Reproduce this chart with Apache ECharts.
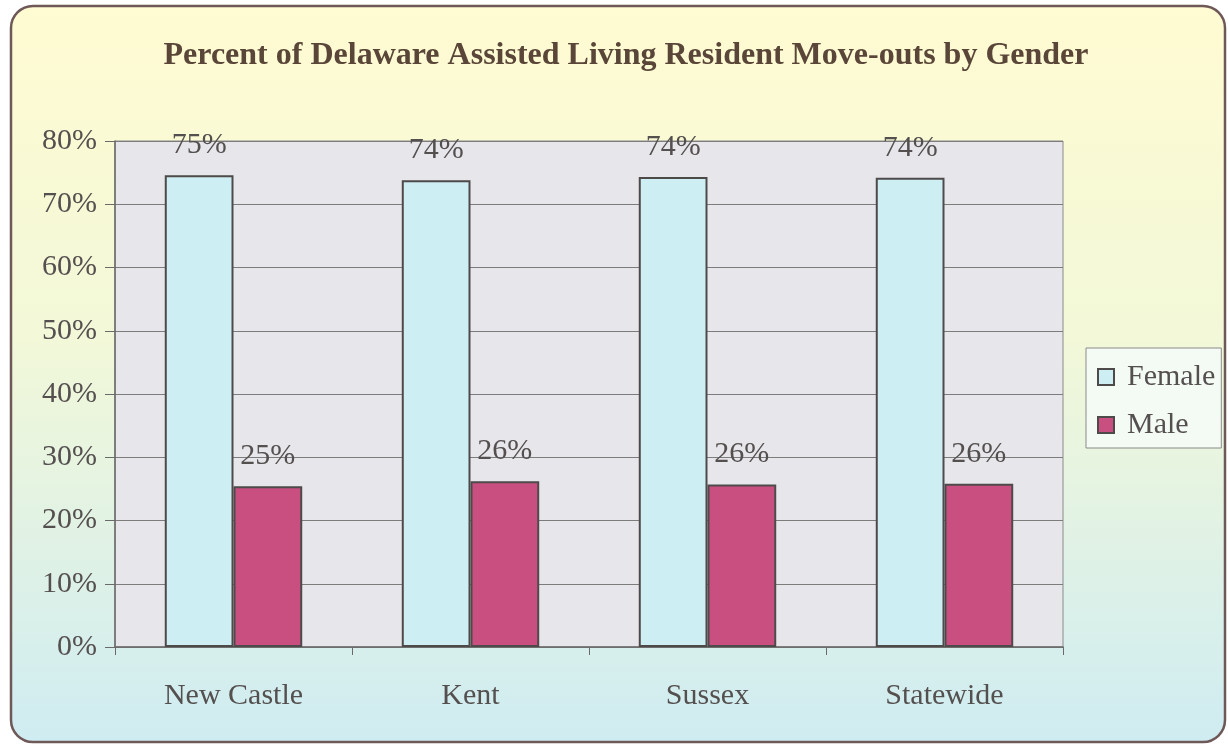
<!DOCTYPE html>
<html>
<head>
<meta charset="utf-8">
<script src="https://cdn.jsdelivr.net/npm/echarts@6/dist/echarts.min.js"></script>
<style>
  html, body { margin: 0; padding: 0; background: #fff; }
  #main { width: 1228px; height: 746px; }
</style>
</head>
<body>
<div id="main"></div>
<script>
// data
const categories = ['New Castle', 'Kent', 'Sussex', 'Statewide']
const female = [74.6, 73.8, 74.3, 74.2]
const male = [25.4, 26.2, 25.7, 25.8]
const yTicks = [0, 10, 20, 30, 40, 50, 60, 70, 80]

const font = '"Liberation Serif", "DejaVu Serif", serif'
const textColor = '#555050'

const chart = echarts.init(document.getElementById('main'))

chart.setOption({
  animation: false,
  textStyle: { fontFamily: font },
  // outer card with yellow -> blue fade
  graphic: [{
    type: 'rect',
    z: -10,
    shape: { x: 11, y: 6, width: 1214, height: 736, r: 22 },
    style: {
      fill: new echarts.graphic.LinearGradient(0, 0, 0, 1, [
        { offset: 0, color: '#fffbd2' },
        { offset: 0.45, color: '#f2f8d8' },
        { offset: 1, color: '#cfecf2' },
      ]),
      stroke: '#6e5858',
      lineWidth: 2.5,
    },
  }],
  title: {
    text: 'Percent of Delaware Assisted Living Resident Move-outs by Gender',
    left: 621,
    textAlign: 'center',
    top: 35,
    textStyle: { fontFamily: font, fontSize: 32, fontWeight: 'bold', color: '#5a4638' },
  },
  legend: {
    orient: 'vertical',
    left: 1086,
    top: 348,
    padding: [14, 6, 8, 11],
    itemGap: 18,
    itemWidth: 16,
    itemHeight: 16,
    backgroundColor: '#f4fbf4',
    borderColor: '#8a8a8a',
    borderWidth: 1,
    textStyle: { fontFamily: font, fontSize: 30, color: textColor, padding: [0, 0, 0, 8] },
    data: [
      { name: 'Female', icon: 'rect' },
      { name: 'Male', icon: 'rect' },
    ],
  },
  grid: {
    left: 115,
    right: 165,
    top: 141,
    bottom: 99,
    show: true,
    backgroundColor: '#e7e6ea',
    borderColor: '#8a8a8a',
    borderWidth: 1,
  },
  xAxis: {
    type: 'category',
    data: categories,
    axisLine: { lineStyle: { color: '#6a6a6a', width: 1.5 } },
    axisTick: { show: true, length: 8, inside: false, lineStyle: { color: '#6a6a6a' } },
    axisLabel: { fontFamily: font, fontSize: 30, color: textColor, margin: 34 },
  },
  yAxis: {
    type: 'value',
    min: yTicks[0],
    max: yTicks[yTicks.length - 1],
    interval: 10,
    axisLine: { show: true, lineStyle: { color: '#6a6a6a', width: 1.5 } },
    axisTick: { show: true, length: 10, lineStyle: { color: '#6a6a6a' } },
    axisLabel: { fontFamily: font, fontSize: 30, color: textColor, margin: 18, formatter: '{value}%' },
    splitLine: { lineStyle: { color: '#7c7c7c', width: 1 } },
  },
  series: [
    {
      name: 'Female',
      type: 'bar',
      data: female,
      barGap: '0%',
      barCategoryGap: '42%',
      itemStyle: { color: '#cdeef2', borderColor: '#4e4a4a', borderWidth: 2 },
      label: {
        show: true,
        position: 'top',
        distance: 15,
        fontFamily: font,
        fontSize: 30,
        color: textColor,
        formatter: (p) => Math.round(p.value) + '%',
      },
    },
    {
      name: 'Male',
      type: 'bar',
      data: male,
      itemStyle: { color: '#c94f80', borderColor: '#4e4a4a', borderWidth: 2 },
      label: {
        show: true,
        position: 'top',
        distance: 15,
        fontFamily: font,
        fontSize: 30,
        color: textColor,
        formatter: (p) => Math.round(p.value) + '%',
      },
    },
  ],
})
</script>
</body>
</html>
